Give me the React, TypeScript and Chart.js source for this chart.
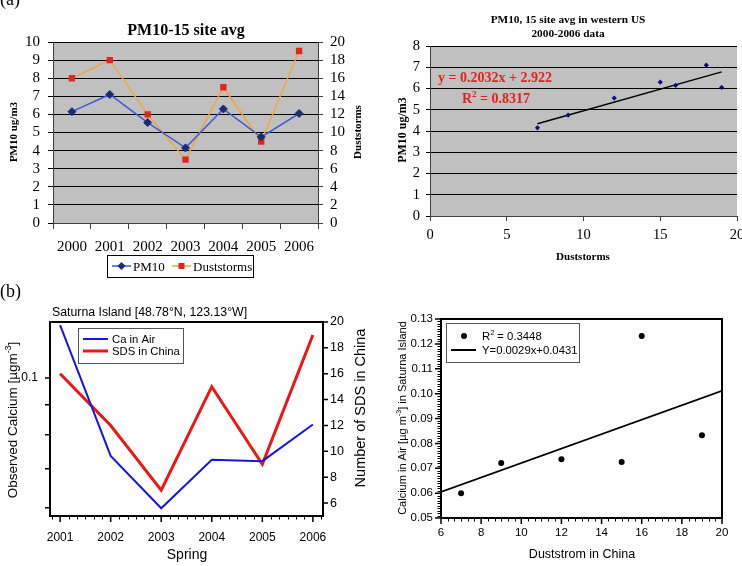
import React, { useEffect, useRef } from "react";
import { Chart, registerables } from "chart.js";

Chart.register(...registerables);

const SERIF = '"Liberation Serif", "Times New Roman", serif';
const SANS = '"Liberation Sans", Arial, sans-serif';

// ---- (a) 15-site PM10 average in the western US vs. duststorm counts ----
const YEARS_A = ["2000", "2001", "2002", "2003", "2004", "2005", "2006"];
const PM10_AVG = [6.15, 7.1, 5.55, 4.15, 6.3, 4.75, 6.05];
const DUSTSTORMS = [16, 18, 12, 7, 15, 9, 19];
const PM10_TICKS = [0, 1, 2, 3, 4, 5, 6, 7, 8, 9, 10];
const STORM_TICKS = [0, 2, 4, 6, 8, 10, 12, 14, 16, 18, 20];
const PM10_TREND = { slope: 0.2032, intercept: 2.922, r2: "0.8317" };

// ---- (b) Saturna Island calcium vs. spring SDS counts in China ----
const YEARS_B = [2001, 2002, 2003, 2004, 2005, 2006];
const CALCIUM = [0.1232, 0.0736, 0.0599, 0.0725, 0.0721, 0.0833];
const SDS_CHINA = [16, 12, 7, 15, 9, 19];
const CALCIUM_LOG_TICKS = [0.06, 0.07, 0.08, 0.09, 0.1];
const SDS_TICKS = [6, 8, 10, 12, 14, 16, 18, 20];
const CALCIUM_TICKS = [0.05, 0.06, 0.07, 0.08, 0.09, 0.1, 0.11, 0.12, 0.13];
const SDS_SCATTER_TICKS = [6, 8, 10, 12, 14, 16, 18, 20];
const CALCIUM_TREND = { slope: 0.0029, intercept: 0.0431, r2: "0.3448" };

type Seg = { t: string; sup?: boolean };
type TextOpts = {
  size: number;
  family: string;
  weight?: string;
  color?: string;
  align?: "left" | "center";
  rot?: number;
};

// Draws a run of text (optionally with superscripts) centred vertically on y.
function text(ctx: CanvasRenderingContext2D, content: string | Seg[], x: number, y: number, o: TextOpts) {
  const segs: Seg[] = typeof content === "string" ? [{ t: content }] : content;
  const { size, family, weight = "normal", color = "#000", align = "center", rot = 0 } = o;
  const fontOf = (s: Seg) => `${weight} ${s.sup ? size * 0.65 : size}px ${family}`;
  ctx.save();
  ctx.translate(x, y);
  if (rot) ctx.rotate(rot);
  let total = 0;
  const widths = segs.map((s) => {
    ctx.font = fontOf(s);
    const w = ctx.measureText(s.t).width;
    total += w;
    return w;
  });
  let cx = align === "center" ? -total / 2 : 0;
  ctx.fillStyle = color;
  ctx.textAlign = "left";
  ctx.textBaseline = "alphabetic";
  const base = size * 0.35;
  segs.forEach((s, i) => {
    ctx.font = fontOf(s);
    ctx.fillText(s.t, cx, s.sup ? base - size * 0.42 : base);
    cx += widths[i];
  });
  ctx.restore();
}

function diamond(ctx: CanvasRenderingContext2D, x: number, y: number, r: number, color: string) {
  ctx.save();
  ctx.fillStyle = color;
  ctx.beginPath();
  ctx.moveTo(x, y - r);
  ctx.lineTo(x + r, y);
  ctx.lineTo(x, y + r);
  ctx.lineTo(x - r, y);
  ctx.closePath();
  ctx.fill();
  ctx.restore();
}

function hline(ctx: CanvasRenderingContext2D, x0: number, x1: number, y: number, color: string, w: number) {
  ctx.save();
  ctx.strokeStyle = color;
  ctx.lineWidth = w;
  ctx.beginPath();
  ctx.moveTo(x0, y);
  ctx.lineTo(x1, y);
  ctx.stroke();
  ctx.restore();
}

const plotFill = (color: string) => ({
  id: "plotFill",
  beforeDraw(chart: any) {
    const { ctx, chartArea: a } = chart;
    ctx.save();
    ctx.fillStyle = color;
    ctx.fillRect(a.left, a.top, a.right - a.left, a.bottom - a.top);
    ctx.restore();
  },
});

const frame = {
  id: "frame",
  afterDatasetsDraw(chart: any) {
    const { ctx, chartArea: a } = chart;
    ctx.save();
    ctx.strokeStyle = "#000";
    ctx.lineWidth = 2;
    ctx.strokeRect(a.left, a.top, a.right - a.left, a.bottom - a.top);
    ctx.restore();
  },
};

const fixedTicks = (values: number[]) => (s: any) => {
  s.ticks = values.map((v) => ({ value: v }));
};

const base = { animation: false as const, responsive: false, events: [] as any[] };
const noPlugins = { legend: { display: false }, title: { display: false }, tooltip: { enabled: false } };

// ---------- (a) left: time series ----------
function makeA1(canvas: HTMLCanvasElement) {
  const H = 280;
  const W = 371;
  const area = { l: 53, t: 42, r: 318, b: 223 };
  const tickFont = { family: SERIF, size: 15 };
  return new Chart(canvas, {
    type: "line",
    data: {
      labels: YEARS_A,
      datasets: [
        {
          label: "PM10",
          data: PM10_AVG,
          yAxisID: "y",
          borderColor: "#3d5bd6",
          borderWidth: 1.5,
          pointStyle: "rectRot",
          pointRadius: 4,
          pointBackgroundColor: "#1b2c72",
          pointBorderColor: "#1b2c72",
          pointBorderWidth: 1,
        },
        {
          label: "Duststorms",
          data: DUSTSTORMS,
          yAxisID: "y1",
          borderColor: "#f2a53c",
          borderWidth: 1.5,
          pointStyle: "rect",
          pointRadius: 4.5,
          pointBackgroundColor: "#e3261c",
          pointBorderColor: "#e3261c",
          pointBorderWidth: 0,
        },
      ],
    },
    options: {
      ...base,
      layout: { padding: { top: area.t, left: 0, right: 0, bottom: 0 } },
      plugins: noPlugins,
      scales: {
        x: {
          type: "category",
          offset: true,
          grid: { offset: true, drawOnChartArea: false, tickLength: 6, color: "#404040" },
          border: { color: "#404040" },
          ticks: { font: tickFont, color: "#000", padding: 9, maxRotation: 0, autoSkip: false },
          afterFit: (s: any) => { s.height = H - area.b; },
        },
        y: {
          position: "left",
          min: 0,
          max: 10,
          afterBuildTicks: fixedTicks(PM10_TICKS),
          ticks: { font: tickFont, color: "#000", padding: 8, autoSkip: false },
          grid: { color: "#000", tickLength: 5 },
          border: { color: "#404040" },
          afterFit: (s: any) => { s.width = area.l; },
        },
        y1: {
          position: "right",
          min: 0,
          max: 20,
          afterBuildTicks: fixedTicks(STORM_TICKS),
          ticks: { font: tickFont, color: "#000", padding: 7, autoSkip: false },
          grid: { drawOnChartArea: false, tickLength: 5, color: "#404040" },
          border: { color: "#404040" },
          afterFit: (s: any) => { s.width = W - area.r; },
        },
      },
    } as any,
    plugins: [
      plotFill("#c0c0c0"),
      {
        id: "decorA1",
        afterDraw(chart: any) {
          const ctx = chart.ctx as CanvasRenderingContext2D;
          ctx.save();
          ctx.font = `18px ${SERIF}`;
          ctx.fillStyle = "#000";
          ctx.textBaseline = "alphabetic";
          ctx.fillText("(a)", 0, 5);
          ctx.restore();
          text(ctx, "PM10-15 site avg", 186, 29, { size: 16, family: SERIF, weight: "bold" });
          text(ctx, "PM10 ug/m3", 13, 132, { size: 11, family: SERIF, weight: "bold", rot: -Math.PI / 2 });
          text(ctx, "Duststorms", 357, 132, { size: 11, family: SERIF, weight: "bold", rot: -Math.PI / 2 });
          // legend
          const ds = chart.data.datasets;
          ctx.save();
          ctx.strokeStyle = "#000";
          ctx.lineWidth = 1;
          ctx.strokeRect(107.5, 255.5, 146, 22);
          ctx.restore();
          hline(ctx, 112, 131, 266, ds[0].borderColor, 1.5);
          diamond(ctx, 121.5, 266, 4, ds[0].pointBackgroundColor);
          text(ctx, ds[0].label, 133, 266, { size: 13, family: SERIF, align: "left" });
          hline(ctx, 172, 191, 266, ds[1].borderColor, 1.5);
          ctx.save();
          ctx.fillStyle = ds[1].pointBackgroundColor;
          ctx.fillRect(178.5, 263, 6, 6);
          ctx.restore();
          text(ctx, ds[1].label, 193, 266, { size: 13, family: SERIF, align: "left" });
        },
      },
    ],
  });
}

// ---------- (a) right: PM10 vs duststorms scatter ----------
function makeA2(canvas: HTMLCanvasElement) {
  const H = 280;
  const area = { l: 59, t: 46, r: 366, b: 216 };
  const xs = DUSTSTORMS;
  const x0 = Math.min(...xs);
  const x1 = Math.max(...xs);
  const trend = (x: number) => PM10_TREND.slope * x + PM10_TREND.intercept;
  return new Chart(canvas, {
    type: "scatter",
    data: {
      datasets: [
        {
          label: "PM10",
          data: xs.map((d, i) => ({ x: d, y: PM10_AVG[i] })),
          pointStyle: "rectRot",
          pointRadius: 2.6,
          pointBackgroundColor: "#0c0c78",
          pointBorderColor: "#0c0c78",
          pointBorderWidth: 0,
        },
        {
          label: "Linear",
          data: [
            { x: x0, y: trend(x0) },
            { x: x1, y: trend(x1) },
          ],
          showLine: true,
          borderColor: "#000",
          borderWidth: 1.5,
          pointRadius: 0,
        },
      ],
    },
    options: {
      ...base,
      layout: { padding: { top: area.t, left: 0, right: 14, bottom: 0 } },
      plugins: noPlugins,
      scales: {
        x: {
          type: "linear",
          min: 0,
          max: 20,
          ticks: { stepSize: 5, font: { family: SERIF, size: 14.5 }, color: "#000", padding: 5, autoSkip: false },
          grid: { drawOnChartArea: false, tickLength: 5, color: "#404040" },
          border: { color: "#404040" },
          afterFit: (s: any) => { s.height = H - area.b; },
        },
        y: {
          type: "linear",
          min: 0,
          max: 8,
          ticks: { stepSize: 1, font: { family: SERIF, size: 14.5 }, color: "#000", padding: 6, autoSkip: false },
          grid: { color: "#000", tickLength: 4 },
          border: { color: "#404040" },
          afterFit: (s: any) => { s.width = area.l; },
        },
      },
    } as any,
    plugins: [
      plotFill("#c0c0c0"),
      {
        id: "decorA2",
        afterDraw(chart: any) {
          const ctx = chart.ctx as CanvasRenderingContext2D;
          const tf = { size: 11.3, family: SERIF, weight: "bold" };
          text(ctx, "PM10, 15 site avg in western US", 197, 19, tf);
          text(ctx, "2000-2006 data", 197, 33, tf);
          const red = { size: 14, family: SERIF, weight: "bold", color: "#e0241c" };
          text(ctx, `y = ${PM10_TREND.slope}x + ${PM10_TREND.intercept}`, 124, 77, red);
          text(ctx, [{ t: "R" }, { t: "2", sup: true }, { t: ` = ${PM10_TREND.r2}` }], 125, 98, red);
          text(ctx, "Duststorms", 212, 256, { size: 11, family: SERIF, weight: "bold" });
          text(ctx, "PM10 ug/m3", 31, 130, { size: 12, family: SERIF, weight: "bold", rot: -Math.PI / 2 });
        },
      },
    ],
  });
}

// ---------- (b) left: calcium & SDS time series ----------
function makeB1(canvas: HTMLCanvasElement) {
  const H = 286;
  const W = 371;
  const area = { l: 50, t: 42, r: 323, b: 236 };
  const tf = { family: SANS, size: 12 };
  return new Chart(canvas, {
    type: "scatter",
    data: {
      datasets: [
        {
          label: "Ca in Air",
          data: YEARS_B.map((yr, i) => ({ x: yr, y: CALCIUM[i] })),
          yAxisID: "y",
          showLine: true,
          borderColor: "#1616e0",
          borderWidth: 2,
          pointRadius: 0,
        },
        {
          label: "SDS in China",
          data: YEARS_B.map((yr, i) => ({ x: yr, y: SDS_CHINA[i] })),
          yAxisID: "y1",
          showLine: true,
          borderColor: "#ee1515",
          borderWidth: 3,
          pointRadius: 0,
        },
      ],
    },
    options: {
      ...base,
      layout: { padding: { top: area.t, left: 0, right: 0, bottom: 0 } },
      plugins: noPlugins,
      scales: {
        x: {
          type: "linear",
          min: 2000.8,
          max: 2006.2,
          afterBuildTicks: fixedTicks(YEARS_B),
          ticks: { font: tf, color: "#000", padding: 14, autoSkip: false, maxRotation: 0, callback: (v: any) => String(v) },
          grid: { display: false, drawTicks: false },
          border: { display: false },
          afterFit: (s: any) => { s.height = H - area.b; },
        },
        y: {
          type: "logarithmic",
          position: "left",
          min: 0.0581,
          max: 0.1247,
          afterBuildTicks: fixedTicks(CALCIUM_LOG_TICKS),
          ticks: { font: tf, color: "#000", padding: 12, autoSkip: false, callback: (v: any) => (v === 0.1 ? "0.1" : "") },
          grid: { display: false, drawTicks: false },
          border: { display: false },
          afterFit: (s: any) => { s.width = area.l; },
        },
        y1: {
          type: "linear",
          position: "right",
          min: 5,
          max: 20,
          afterBuildTicks: fixedTicks(SDS_TICKS),
          ticks: { font: { family: SANS, size: 12.5 }, color: "#000", padding: 7, autoSkip: false, callback: (v: any) => String(v) },
          grid: { display: false, drawTicks: false },
          border: { display: false },
          afterFit: (s: any) => { s.width = W - area.r; },
        },
      },
    } as any,
    plugins: [
      frame,
      {
        id: "decorB1",
        afterDraw(chart: any) {
          const ctx = chart.ctx as CanvasRenderingContext2D;
          const a = chart.chartArea;
          const { x, y, y1 } = chart.scales;
          ctx.save();
          ctx.strokeStyle = "#000";
          ctx.lineWidth = 1.5;
          ctx.beginPath();
          for (const v of CALCIUM_LOG_TICKS) {
            const py = y.getPixelForValue(v);
            ctx.moveTo(a.left - 5, py);
            ctx.lineTo(a.left, py);
          }
          for (const v of SDS_TICKS) {
            const py = y1.getPixelForValue(v);
            ctx.moveTo(a.right, py);
            ctx.lineTo(a.right + 5, py);
          }
          for (const v of YEARS_B) {
            const px = x.getPixelForValue(v);
            ctx.moveTo(px, a.bottom);
            ctx.lineTo(px, a.bottom + 6);
          }
          ctx.stroke();
          ctx.lineWidth = 1;
          ctx.beginPath();
          for (let k = -6; k <= YEARS_B.length * 6; k++) {
            if (k % 6 === 0) continue;
            const v = YEARS_B[0] + k / 6;
            if (v < x.min || v > x.max) continue;
            const px = Math.round(x.getPixelForValue(v)) + 0.5;
            ctx.moveTo(px, a.bottom);
            ctx.lineTo(px, a.bottom + 3.5);
          }
          ctx.stroke();
          ctx.restore();

          ctx.save();
          ctx.font = `18px ${SERIF}`;
          ctx.fillStyle = "#000";
          ctx.textBaseline = "alphabetic";
          ctx.fillText("(b)", 0, 17);
          ctx.restore();

          text(ctx, "Saturna Island [48.78°N, 123.13°W]", 52, 32, { size: 12.3, family: SANS, align: "left" });
          text(ctx, [{ t: "Observed Calcium [µgm" }, { t: "-3", sup: true }, { t: "]" }], 12, 140, {
            size: 13.5,
            family: SANS,
            rot: -Math.PI / 2,
          });
          text(ctx, "Number of SDS in China", 360, 128, { size: 14.5, family: SANS, rot: -Math.PI / 2 });
          text(ctx, "Spring", 187, 274, { size: 14, family: SANS });

          // legend
          const ds = chart.data.datasets;
          ctx.save();
          ctx.strokeStyle = "#555";
          ctx.lineWidth = 1;
          ctx.strokeRect(78.5, 48.5, 105, 35);
          ctx.restore();
          hline(ctx, 83, 108, 59, ds[0].borderColor, 2);
          hline(ctx, 83, 108, 71, ds[1].borderColor, 3);
          text(ctx, ds[0].label, 112, 59, { size: 11.3, family: SANS, align: "left" });
          text(ctx, ds[1].label, 112, 71, { size: 11.3, family: SANS, align: "left" });
        },
      },
    ],
  });
}

// ---------- (b) right: calcium vs SDS scatter ----------
function makeB2(canvas: HTMLCanvasElement) {
  const H = 286;
  const area = { l: 70, t: 39, r: 351, b: 238 };
  const xMin = SDS_SCATTER_TICKS[0];
  const xMax = SDS_SCATTER_TICKS[SDS_SCATTER_TICKS.length - 1];
  const trend = (x: number) => CALCIUM_TREND.slope * x + CALCIUM_TREND.intercept;
  const tf = { family: SANS, size: 11.5 };
  return new Chart(canvas, {
    type: "scatter",
    data: {
      datasets: [
        {
          label: "Calcium",
          data: SDS_CHINA.map((d, i) => ({ x: d, y: CALCIUM[i] })),
          pointStyle: "circle",
          pointRadius: 3,
          pointBackgroundColor: "#000",
          pointBorderColor: "#000",
          pointBorderWidth: 0,
        },
        {
          label: "Linear",
          data: [
            { x: xMin, y: trend(xMin) },
            { x: xMax, y: trend(xMax) },
          ],
          showLine: true,
          borderColor: "#000",
          borderWidth: 1.8,
          pointRadius: 0,
        },
      ],
    },
    options: {
      ...base,
      layout: { padding: { top: area.t, left: 0, right: 20, bottom: 0 } },
      plugins: noPlugins,
      scales: {
        x: {
          type: "linear",
          min: xMin,
          max: xMax,
          afterBuildTicks: fixedTicks(SDS_SCATTER_TICKS),
          ticks: { font: tf, color: "#000", padding: 8, autoSkip: false, maxRotation: 0, callback: (v: any) => String(v) },
          grid: { display: false, drawTicks: false },
          border: { display: false },
          afterFit: (s: any) => { s.height = H - area.b; },
        },
        y: {
          type: "linear",
          min: CALCIUM_TICKS[0],
          max: CALCIUM_TICKS[CALCIUM_TICKS.length - 1],
          afterBuildTicks: fixedTicks(CALCIUM_TICKS),
          ticks: { font: tf, color: "#000", padding: 8, autoSkip: false, callback: (v: any) => Number(v).toFixed(2) },
          grid: { display: false, drawTicks: false },
          border: { display: false },
          afterFit: (s: any) => { s.width = area.l; },
        },
      },
    } as any,
    plugins: [
      frame,
      {
        id: "decorB2",
        afterDraw(chart: any) {
          const ctx = chart.ctx as CanvasRenderingContext2D;
          const a = chart.chartArea;
          const { x, y } = chart.scales;
          ctx.save();
          ctx.strokeStyle = "#000";
          ctx.lineWidth = 1.5;
          ctx.beginPath();
          for (const v of CALCIUM_TICKS) {
            const py = y.getPixelForValue(v);
            ctx.moveTo(a.left - 6, py);
            ctx.lineTo(a.left, py);
          }
          for (const v of SDS_SCATTER_TICKS) {
            const px = x.getPixelForValue(v);
            ctx.moveTo(px, a.bottom);
            ctx.lineTo(px, a.bottom + 6);
          }
          ctx.stroke();
          ctx.lineWidth = 1;
          ctx.beginPath();
          const yStep = (CALCIUM_TICKS[1] - CALCIUM_TICKS[0]) / 10;
          const ySteps = Math.round((y.max - y.min) / yStep);
          for (let k = 1; k < ySteps; k++) {
            if (k % 10 === 0) continue;
            const py = Math.round(y.getPixelForValue(y.min + k * yStep)) + 0.5;
            ctx.moveTo(a.left - 3.5, py);
            ctx.lineTo(a.left, py);
          }
          const xStep = (SDS_SCATTER_TICKS[1] - SDS_SCATTER_TICKS[0]) / 6;
          const xSteps = Math.round((x.max - x.min) / xStep);
          for (let k = 1; k < xSteps; k++) {
            if (k % 6 === 0) continue;
            const px = Math.round(x.getPixelForValue(x.min + k * xStep)) + 0.5;
            ctx.moveTo(px, a.bottom);
            ctx.lineTo(px, a.bottom + 3.5);
          }
          ctx.stroke();
          ctx.restore();

          text(ctx, [{ t: "Calcium in Air [µg m" }, { t: "-3", sup: true }, { t: "] in Saturna Island" }], 31, 138, {
            size: 11,
            family: SANS,
            rot: -Math.PI / 2,
          });
          text(ctx, "Duststrom in China", 211, 274, { size: 12.5, family: SANS });

          // legend
          ctx.save();
          ctx.strokeStyle = "#555";
          ctx.lineWidth = 1;
          ctx.strokeRect(75.5, 43.5, 133, 39);
          ctx.fillStyle = "#000";
          ctx.beginPath();
          ctx.arc(93, 56, 3, 0, Math.PI * 2);
          ctx.fill();
          ctx.restore();
          hline(ctx, 80, 105, 70, "#000", 2);
          text(ctx, [{ t: "R" }, { t: "2", sup: true }, { t: ` = ${CALCIUM_TREND.r2}` }], 111, 56, {
            size: 11.3,
            family: SANS,
            align: "left",
          });
          text(ctx, `Y=${CALCIUM_TREND.slope}x+${CALCIUM_TREND.intercept}`, 111, 70, {
            size: 11.3,
            family: SANS,
            align: "left",
          });
        },
      },
    ],
  });
}

function ChartBox(props: { left: number; top: number; width: number; height: number; make: (c: HTMLCanvasElement) => Chart }) {
  const ref = useRef<HTMLCanvasElement>(null);
  const { left, top, width, height, make } = props;
  useEffect(() => {
    const chart = make(ref.current as HTMLCanvasElement);
    return () => chart.destroy();
  }, [make]);
  return (
    <canvas
      ref={ref}
      width={width}
      height={height}
      style={{ position: "absolute", left, top, width, height, display: "block" }}
    />
  );
}

export default function App() {
  return (
    <div
      style={{
        position: "absolute",
        left: 0,
        top: 0,
        width: 742,
        height: 566,
        overflow: "hidden",
        background: "#fff",
      }}
    >
      <ChartBox left={0} top={0} width={371} height={280} make={makeA1} />
      <ChartBox left={371} top={0} width={380} height={280} make={makeA2} />
      <ChartBox left={0} top={280} width={371} height={286} make={makeB1} />
      <ChartBox left={371} top={280} width={371} height={286} make={makeB2} />
    </div>
  );
}
